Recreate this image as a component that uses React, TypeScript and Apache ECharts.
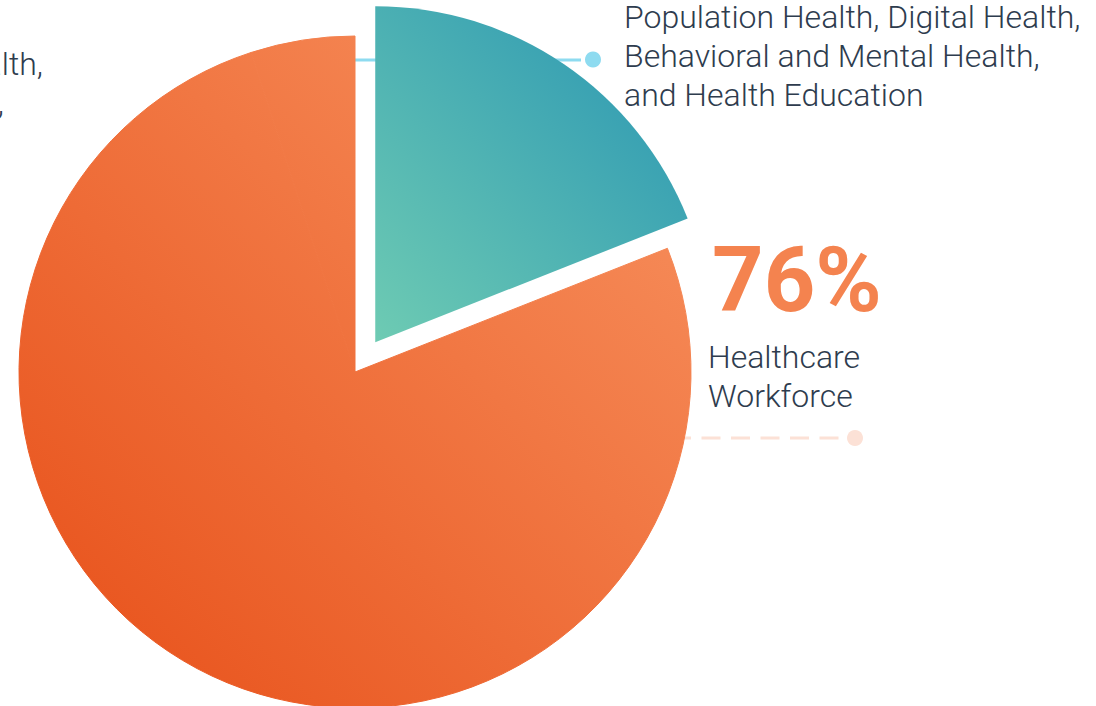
import React, { useEffect, useRef } from "react";
import * as echarts from "echarts";

// ---- data ----
const categories = [
  "Population Health, Digital Health, Behavioral and Mental Health, and Health Education",
  "Healthcare Workforce",
  "Other",
];
const values = [19, 76, 5];
const tealLabelLines = [
  "Population Health, Digital Health,",
  "Behavioral and Mental Health,",
  "and Health Education",
];
const workforceLabelLines = ["Healthcare", "Workforce"];
const otherLabelLines = ["Public Health,", "Research,"];

const TEXT = "#2E3C4E";
const FONT = "Roboto, 'Noto Sans', sans-serif";

export default function App() {
  const ref = useRef<HTMLDivElement>(null);
  useEffect(() => {
    if (!ref.current) return;
    const chart = echarts.init(ref.current, undefined, { renderer: "svg" });

    const orangeGrad = {
      type: "linear",
      x: 19,
      y: 708,
      x2: 691,
      y2: 36,
      global: true,
      colorStops: [
        { offset: 0, color: "#E74E17" },
        { offset: 1, color: "#F89462" },
      ],
    };
    const tealGrad = {
      type: "linear",
      x: 0,
      y: 1,
      x2: 1,
      y2: 0,
      colorStops: [
        { offset: 0, color: "#6ECBB3" },
        { offset: 1, color: "#2894B3" },
      ],
    };

    // one text element per line, line box = font size (32px), lines 39px apart
    const labelLine = (x: number, y: number, text: string, align = "left") => ({
      type: "text",
      z: 1,
      x,
      y,
      style: {
        text,
        fontSize: 32,
        fontWeight: 300,
        fontFamily: FONT,
        lineHeight: 32,
        fill: TEXT,
        textAlign: align,
        textVerticalAlign: "top",
      },
    });
    const block = (x: number, y: number, lines: string[], align = "left") =>
      lines.map((t, i) => labelLine(x, y + i * 39, t, align));

    const option: any = {
      animation: false,
      backgroundColor: "#ffffff",
      series: [
        {
          type: "pie",
          z: 10,
          center: [355, 372],
          radius: 336,
          startAngle: 90,
          clockwise: true,
          selectedMode: "single",
          selectedOffset: 36,
          label: { show: false },
          labelLine: { show: false },
          emphasis: { disabled: true },
          itemStyle: { borderWidth: 0 },
          data: [
            { name: categories[0], value: values[0], selected: true, itemStyle: { color: tealGrad, borderWidth: 0 } },
            { name: categories[1], value: values[1], itemStyle: { color: orangeGrad, borderColor: orangeGrad, borderWidth: 1 } },
            { name: categories[2], value: values[2], itemStyle: { color: orangeGrad, borderColor: orangeGrad, borderWidth: 1 } },
          ],
        },
      ],
      graphic: {
        elements: [
          {
            type: "line",
            z: 1,
            silent: true,
            shape: { x1: 300, y1: 60, x2: 581, y2: 60 },
            style: { stroke: "#8EDBF0", lineWidth: 3 },
          },
          {
            type: "circle",
            z: 1,
            silent: true,
            shape: { cx: 593, cy: 59.5, r: 8 },
            style: { fill: "#8EDBF0" },
          },
          {
            type: "line",
            z: 1,
            silent: true,
            shape: { x1: 672, y1: 438, x2: 842, y2: 438 },
            style: { stroke: "#FCE1D6", lineWidth: 3, lineDash: [19, 10.5] },
          },
          {
            type: "circle",
            z: 1,
            silent: true,
            shape: { cx: 855, cy: 438, r: 8 },
            style: { fill: "#FCE1D6" },
          },
          ...block(624, 0.5, tealLabelLines),
          {
            type: "text",
            z: 1,
            x: 712,
            y: 235,
            style: {
              text: `${values[1]}%`,
              fontSize: 90,
              fontWeight: "bold",
              fontFamily: FONT,
              lineHeight: 90,
              fill: "#F4834F",
              textAlign: "left",
              textVerticalAlign: "top",
            },
          },
          ...block(708, 340.5, workforceLabelLines),
          labelLine(43, 47.5, otherLabelLines[0], "right"),
          labelLine(4, 86.5, otherLabelLines[1], "right"),
        ],
      },
    };
    chart.setOption(option);
    return () => chart.dispose();
  }, []);

  return (
    <div
      ref={ref}
      style={{ position: "absolute", left: 0, top: 0, width: 1096, height: 706 }}
    />
  );
}
